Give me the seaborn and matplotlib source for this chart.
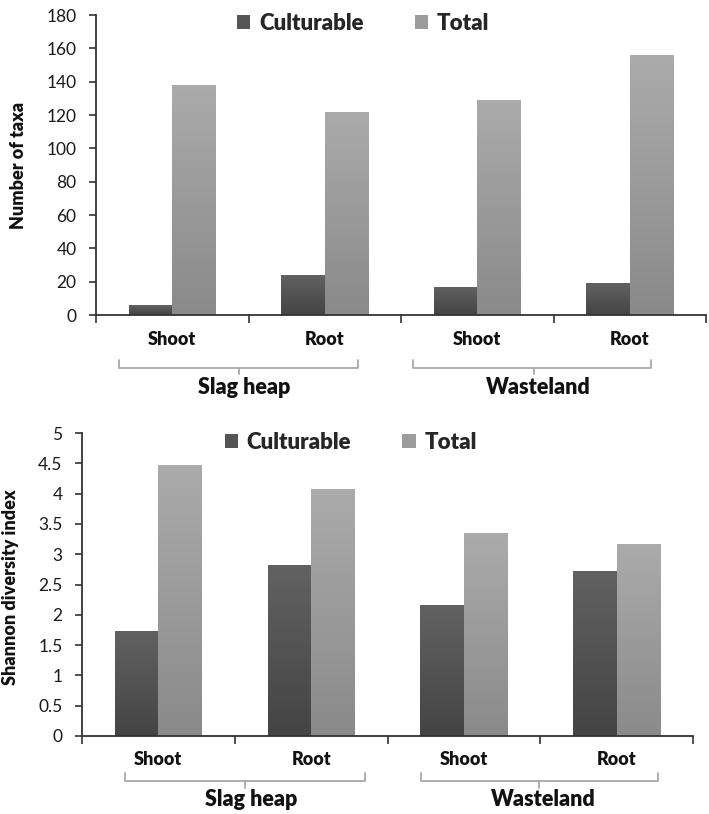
import numpy as np
import pandas as pd
import matplotlib
matplotlib.use("Agg")
import matplotlib.pyplot as plt
import matplotlib.transforms as mtransforms
from matplotlib.colors import LinearSegmentedColormap
from matplotlib.patches import Patch
import seaborn as sns

# ---- data ----
sites = ["Slag heap", "Slag heap", "Wasteland", "Wasteland"]
organs = ["Shoot", "Root", "Shoot", "Root"]
series_names = ["Culturable", "Total"]
taxa_culturable = [6, 24, 17, 19]
taxa_total = [138, 122, 129, 156]
shannon_culturable = [1.74, 2.83, 2.16, 2.73]
shannon_total = [4.47, 4.08, 3.35, 3.17]
taxa_ticks = [0, 20, 40, 60, 80, 100, 120, 140, 160, 180]
shannon_ticks = [0, 0.5, 1, 1.5, 2, 2.5, 3, 3.5, 4, 4.5, 5]
shannon_ticklabels = ["0", "0.5", "1", "1.5", "2", "2.5", "3", "3.5", "4", "4.5", "5"]

sns.set_theme(style="white")
plt.rcParams["font.family"] = ["Lato", "DejaVu Sans"]
BOLD = "heavy"

keys = [f"{s} {o}" for s, o in zip(sites, organs)]


def long_df(cult, tot):
    rows = []
    for k, c, t in zip(keys, cult, tot):
        rows.append({"key": k, "series": series_names[0], "value": c})
        rows.append({"key": k, "series": series_names[1], "value": t})
    return pd.DataFrame(rows)


grad = {
    "Culturable": ("#626262", "#444444"),
    "Total": ("#ababab", "#8a8a8a"),
}
flat = {"Culturable": "#555555", "Total": "#9c9c9c"}

fig = plt.figure(figsize=(7.09, 8.14), dpi=100)
W, H = 709, 814


def panel(rect, cult, tot, ymax, yticks, yticklabels, ylabel, ylab_xy,
          legend_xy, lab_y, br, grp):
    ax = fig.add_axes(rect)
    df = long_df(cult, tot)
    sns.barplot(data=df, x="key", y="value", hue="series", order=keys,
                hue_order=series_names, palette=flat, width=0.57,
                legend=False, ax=ax, saturation=1)
    # gradient fill
    for cont, name in zip(ax.containers, series_names):
        cmap = LinearSegmentedColormap.from_list("g", [grad[name][1], grad[name][0]])
        for p in cont.patches:
            x0, y0 = p.get_x(), p.get_y()
            w, h = p.get_width(), p.get_height()
            im = ax.imshow(np.linspace(0, 1, 256).reshape(-1, 1), cmap=cmap,
                           extent=[x0, x0 + w, y0, y0 + h], origin="lower",
                           aspect="auto", zorder=p.get_zorder() + 0.1)
            im.set_clip_path(p)
    ax.set_xlim(-0.5, 3.5)
    ax.set_ylim(0, ymax)
    ax.set_yticks(yticks)
    ax.set_yticklabels(yticklabels, fontsize=12.5, color="#1a1a1a")
    ax.set_xticks([-0.5, 0.5, 1.5, 2.5, 3.5])
    ax.set_xticklabels([])
    ax.set_xlabel("")
    ax.set_ylabel("")
    for s in ["top", "right"]:
        ax.spines[s].set_visible(False)
    for s in ["left", "bottom"]:
        ax.spines[s].set_color("#333333")
        ax.spines[s].set_linewidth(1.3)
    ax.tick_params(axis="y", left=True, length=5, width=1.2, color="#333333", pad=9)
    ax.tick_params(axis="x", bottom=True, length=6, width=1.2, color="#333333")
    ax.text(ylab_xy[0], ylab_xy[1], ylabel, transform=ax.transAxes, rotation=90,
            ha="center", va="center", fontsize=13, fontweight=BOLD, color="#111111")
    handles = [Patch(facecolor=flat[n], edgecolor="none", label=n) for n in series_names]
    ax.legend(handles=handles, ncol=2, loc="center", bbox_to_anchor=legend_xy,
              frameon=False, handlelength=0.6, handleheight=0.6, handletextpad=0.4,
              columnspacing=2.3, prop={"family": ["Lato", "DejaVu Sans"],
                                       "weight": BOLD, "size": 16})
    trans = mtransforms.blended_transform_factory(ax.transData, ax.transAxes)
    for i, o in enumerate(organs):
        ax.text(i, lab_y, o, transform=trans, ha="center", va="center",
                fontsize=13, fontweight=BOLD, color="#111111")
    (yh, ye, yc) = br["y"]
    for (xl, xr, xc) in br["x"]:
        ax.plot([xl, xl, xr, xr], [ye, yh, yh, ye], transform=trans, color="#a8a8a8",
                lw=1.3, clip_on=False, solid_joinstyle="round")
        ax.plot([xc, xc], [yh, yc], transform=trans, color="#a8a8a8", lw=1.3,
                clip_on=False)
    for (gx, gname) in zip(grp["x"], ["Slag heap", "Wasteland"]):
        ax.text(gx, grp["y"], gname, transform=trans, ha="center", va="center",
                fontsize=15.5, fontweight=BOLD, color="#111111")
    return ax


# top panel: axes px 96..706, 15..315
panel([96 / W, 1 - 315 / H, 610 / W, 300 / H], taxa_culturable, taxa_total, 180,
      taxa_ticks, [str(t) for t in taxa_ticks], "Number of taxa",
      ((18 - 96) / 610, 0.5), (0.438, 0.973), -0.08,
      {"y": (-0.177, -0.15, -0.197), "x": [(-0.35, 1.22, 0.44), (1.58, 3.14, 2.37)]},
      {"x": [0.47, 2.40], "y": -0.24})

# bottom panel: axes px 82..693, 433..736
panel([82 / W, 1 - 736 / H, 611 / W, 303 / H], shannon_culturable, shannon_total, 5,
      shannon_ticks, shannon_ticklabels, "Shannon diversity index",
      ((11 - 82) / 611, 0.49), (0.44, 0.97), -0.079,
      {"y": (-0.1485, -0.122, -0.172), "x": [(-0.22, 1.35, 0.57), (1.72, 3.27, 2.49)]},
      {"x": [0.61, 2.52], "y": -0.211})

fig.savefig("out.png", dpi=100)
